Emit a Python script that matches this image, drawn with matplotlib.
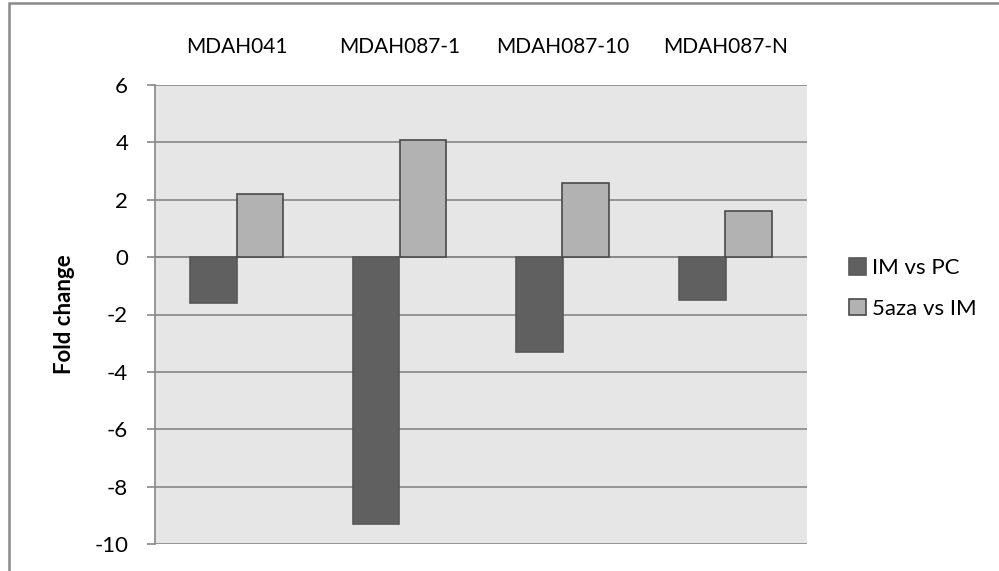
import matplotlib
matplotlib.use("Agg")
import matplotlib.pyplot as plt
import numpy as np

categories = ["MDAH041", "MDAH087-1", "MDAH087-10", "MDAH087-N"]
series_names = ["IM vs PC", "5aza vs IM"]
im_vs_pc = [-1.6, -9.3, -3.3, -1.5]
aza_vs_im = [2.2, 4.1, 2.6, 1.6]
yticks = [-10, -8, -6, -4, -2, 0, 2, 4, 6]

plt.rcParams['font.family'] = ['Lato', 'DejaVu Sans']

fig = plt.figure(figsize=(9.99, 5.71), dpi=100)
ax = fig.add_axes([155/999, 1-544/571, (807-155)/999, (544-85)/571])
ax.set_facecolor('#E6E6E6')

x = np.arange(len(categories))
w = 0.286
grid_c = '#878787'
ax.bar(x - w/2, im_vs_pc, w, color='#606060', edgecolor='#585858', linewidth=1.2,
       label=series_names[0], zorder=3)
ax.bar(x + w/2, aza_vs_im, w, color='#B2B2B2', edgecolor='#4a4a4a', linewidth=1.2,
       label=series_names[1], zorder=3)

ax.set_xlim(-0.5, len(categories) - 0.5)
ax.set_ylim(-10, 6)
ax.set_yticks(yticks)
ax.set_yticklabels([str(v) for v in yticks], fontsize=16)
ax.yaxis.grid(True, color=grid_c, linewidth=1.2, zorder=0)
ax.set_axisbelow(True)
ax.axhline(0, color=grid_c, linewidth=1.2, zorder=2)

ax.xaxis.tick_top()
ax.set_xticks(x)
ax.set_xticklabels(categories, fontsize=15)
ax.tick_params(axis='x', length=0, pad=20)
ax.tick_params(axis='y', length=5.8, color=grid_c, width=1.2, pad=13.5)

for s in ['top', 'right', 'bottom']:
    ax.spines[s].set_visible(False)
ax.spines['left'].set_color(grid_c)
ax.spines['left'].set_linewidth(1.2)

ax.set_ylabel("Fold change", fontsize=16, fontweight='bold', labelpad=14)

leg = fig.legend(loc='center left', bbox_to_anchor=(849/999, 1-288.5/571), frameon=False,
                 fontsize=16, handlelength=0.77, handleheight=0.77, handletextpad=0.25,
                 labelspacing=0.9, borderaxespad=0, borderpad=0)

fig.patches.append(plt.Rectangle((9/999, -0.1), 1.2, 1.1 - 3/571, transform=fig.transFigure,
                                 fill=False, edgecolor='#8a8a8a', linewidth=1.8))

fig.savefig("out.png", dpi=100)
